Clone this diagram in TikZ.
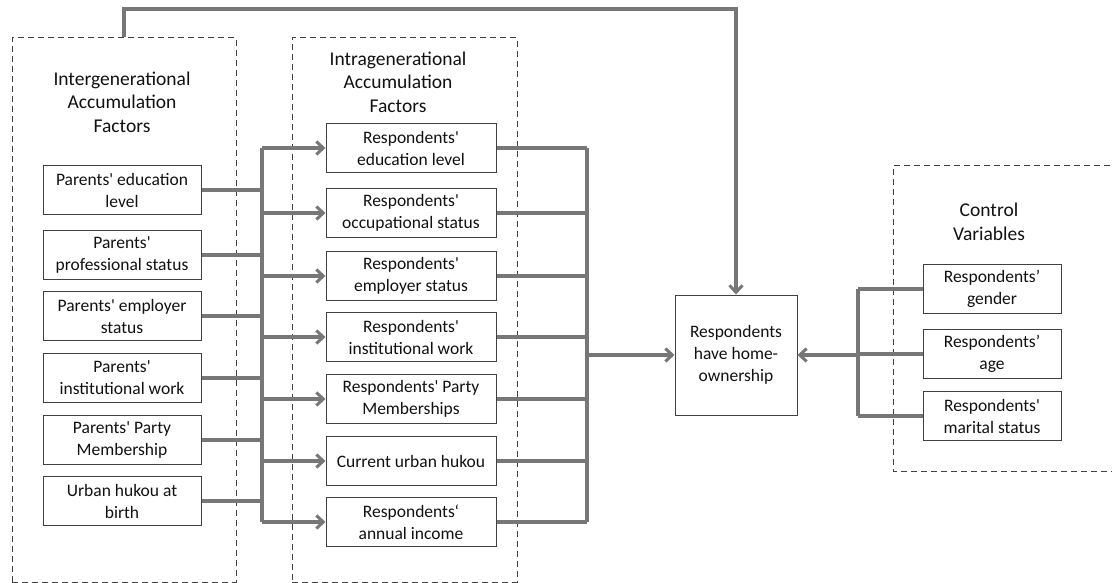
\documentclass[tikz,border=0pt]{standalone}
\usepackage{fontspec}
\setmainfont{Carlito}[Ligatures=TeXOff]
\usetikzlibrary{arrows.meta}
\definecolor{conn}{HTML}{777777}
\definecolor{bord}{HTML}{404040}
\definecolor{txt}{HTML}{111111}
\tikzset{
  box/.style={draw=bord, line width=1pt, align=center, inner sep=0pt, text=txt,
    font=\fontsize{17.5}{22}\selectfont},
  lbox/.style={box, minimum width=158pt, minimum height=49pt},
  mbox/.style={box, minimum width=170pt, minimum height=49pt},
  cbox/.style={box, minimum width=138pt, minimum height=49pt},
  grp/.style={draw=bord, line width=1pt, dash pattern=on 6pt off 4pt, inner sep=0pt},
  ttl/.style={align=center, text=txt, font=\fontsize{19.5}{23.5}\selectfont},
  conline/.style={draw=conn, line width=3.2pt},
  conarrow/.style={conline, -{Straight Barb[length=7pt,width=13pt,line width=3pt]}},
}
\begin{document}
\begin{tikzpicture}[x=1pt,y=-1pt]
\useasboundingbox (0,0) rectangle (1112,583);
% group frames
\node[grp, minimum width=224pt, minimum height=544pt] (gL) at (124,310) {};
\node[grp, minimum width=225pt, minimum height=544pt] (gM) at (404.5,310) {};
\draw[draw=bord, line width=1pt, dash pattern=on 6pt off 4pt] (1120,166) -- (893,166) -- (893,471) -- (1120,471);
% titles
\node[ttl] (tL) at (122,102) {Intergenerational\\Accumulation\\Factors};
\node[ttl] (tM) at (398,82) {Intragenerational\\Accumulation\\Factors};
\node[ttl] (tC) at (989,222) {Control\\Variables};
% left boxes
\node[lbox] (p1) at (122,190) {Parents' education\\level};
\node[lbox] (p2) at (122,255) {Parents'\\professional status};
\node[lbox] (p3) at (122,316) {Parents' employer\\status};
\node[lbox] (p4) at (122,378) {Parents'\\institutional work};
\node[lbox] (p5) at (122,440) {Parents' Party\\Membership};
\node[lbox] (p6) at (122,501) {Urban hukou at\\birth};
% middle boxes
\node[mbox] (m1) at (411,148) {Respondents'\\education level};
\node[mbox] (m2) at (411,213) {Respondents'\\occupational status};
\node[mbox] (m3) at (411,276) {Respondents'\\employer status};
\node[mbox] (m4) at (411,337) {Respondents'\\institutional work};
\node[mbox] (m5) at (411,399) {Respondents' Party\\Memberships};
\node[mbox] (m6) at (411,461) {Current urban hukou};
\node[mbox] (m7) at (411,522) {Respondents‘\\annual income};
% outcome
\node[box, minimum width=122pt, minimum height=120pt] (out) at (736,355) {Respondents\\have home-\\ownership};
% control boxes
\node[cbox] (c1) at (992,289) {Respondents’\\gender};
\node[cbox] (c2) at (992,354) {Respondents’\\age};
\node[cbox] (c3) at (992,416) {Respondents'\\marital status};
% bus coordinates
\coordinate (busL) at (262,0);
\coordinate (busR) at (587,0);
\coordinate (busC) at (858,0);
\coordinate (topY) at (0,9);
% left connectors
\foreach \i in {1,...,6} {\draw[conline] (p\i.east) -- (p\i.east -| busL);}
\draw[conline] (m1.west -| busL) -- (m7.west -| busL);
\foreach \i in {1,...,7} {\draw[conarrow] (m\i.west -| busL) -- (m\i.west);}
% right connectors
\foreach \i in {1,...,7} {\draw[conline] (m\i.east) -- (m\i.east -| busR);}
\draw[conline] (m1.east -| busR) -- (m7.east -| busR);
\draw[conarrow] (out.west -| busR) -- (out.west);
% control connectors
\foreach \i in {1,2,3} {\draw[conline] (c\i.west) -- (c\i.west -| busC);}
\draw[conline] (c1.west -| busC) -- (c3.west -| busC);
\draw[conarrow] (out.east -| busC) -- (out.east);
% feedback
\draw[conarrow] (gL.north) -- (gL.north |- topY) -| (out.north);
\end{tikzpicture}
\end{document}
